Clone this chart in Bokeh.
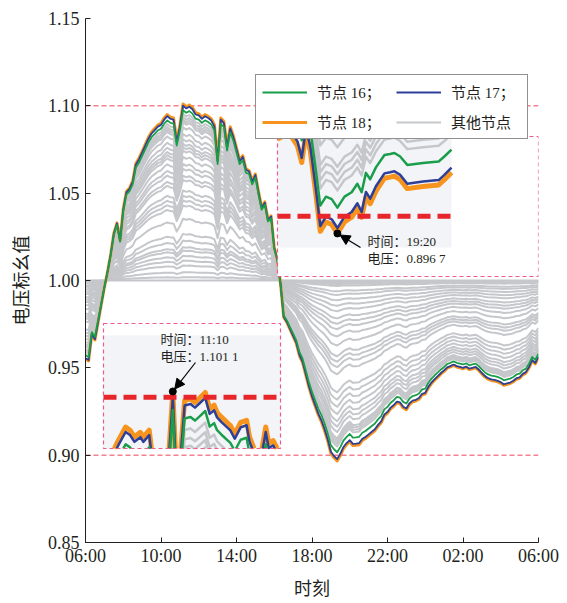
import numpy as np
from bokeh.plotting import figure
from bokeh.models import Range1d, FixedTicker, Legend, LegendItem, Arrow, NormalHead
from bokeh.core.properties import value
from bokeh.embed import file_html
from bokeh.resources import INLINE

# ---------------------------------------------------------------- data
# Node 18 (feeder end) voltage, p.u., 10-min samples from 06:00 to 06:00 next day
node18_pu = [
    0.955, 0.954, 0.969, 0.966, 0.976, 0.986, 0.996, 1.005, 1.015, 1.027,
    1.033, 1.023, 1.041, 1.051, 1.053, 1.057, 1.067, 1.070, 1.074, 1.078,
    1.082, 1.085, 1.087, 1.089, 1.090, 1.093, 1.095, 1.0935, 1.093, 1.080,
    1.089, 1.1011, 1.0995, 1.1005, 1.0990, 1.0960, 1.0955, 1.0935, 1.0950, 1.0940,
    1.0925, 1.0890, 1.0690, 1.0930, 1.0910, 1.0770, 1.0880, 1.0830, 1.0760, 1.0690,
    1.0715, 1.0640, 1.0630, 1.0570, 1.0610, 1.0510, 1.0420, 1.0450, 1.0350, 1.0370,
    1.0190, 1.0120, 0.9980, 0.9790, 0.9760, 0.9720, 0.9680, 0.9640, 0.9570, 0.9530,
    0.9460, 0.9390, 0.9330, 0.9280, 0.9230, 0.9190, 0.9140, 0.9080, 0.9010, 0.8985,
    0.8967, 0.8998, 0.9037, 0.9060, 0.9077, 0.9055, 0.9057, 0.9060, 0.9084, 0.9095,
    0.9110, 0.9125, 0.9140, 0.9165, 0.9185, 0.9225, 0.9240, 0.9265, 0.9280, 0.9300,
    0.9295, 0.9270, 0.9260, 0.9290, 0.9305, 0.9310, 0.9320, 0.9345, 0.9350, 0.9385,
    0.9410, 0.9430, 0.9447, 0.9465, 0.9480, 0.9498, 0.9505, 0.9514, 0.9505, 0.9500,
    0.9495, 0.9502, 0.9490, 0.9495, 0.9500, 0.9485, 0.9465, 0.9447, 0.9435, 0.9428,
    0.9425, 0.9420, 0.9412, 0.9400, 0.9405, 0.9410, 0.9420, 0.9435, 0.9440, 0.9460,
    0.9470, 0.9500, 0.9540, 0.9523, 0.9560,
]

# Voltage-deviation sensitivity of each node relative to node 18
# (day: reverse power flow from PV, night: load)
node16_sens = (0.965, 0.952)
node17_sens = (0.990, 0.990)
other_sens_day = [0.0, 0.019, 0.047, 0.085, 0.113, 0.14, 0.17, 0.189, 0.226, 0.264,
                  0.35, 0.425, 0.453, 0.48, 0.51, 0.57, 0.594, 0.632, 0.66, 0.70,
                  0.736, 0.755, 0.774, 0.80, 0.83, 0.868, 0.896, 0.91, 0.925, 0.943]
other_sens_night = [0.0, 0.005, 0.01, 0.02, 0.03, 0.06, 0.08, 0.11, 0.14, 0.17,
                    0.21, 0.24, 0.27, 0.31, 0.36, 0.42, 0.45, 0.48, 0.52, 0.62,
                    0.66, 0.70, 0.74, 0.78, 0.81, 0.84, 0.876, 0.89, 0.905, 0.92]

# Detail around the midday over-voltage (node 18)
noon_times = ["10:23", "10:27", "10:30", "10:33", "10:38", "10:41", "10:44", "10:48",
              "10:50", "10:54", "10:56", "11:01", "11:07", "11:10", "11:12", "11:15",
              "11:18", "11:22", "11:25", "11:28", "11:32", "11:35", "11:38", "11:40",
              "11:43", "11:49", "11:52", "11:56", "12:00", "12:02", "12:06", "12:10",
              "12:13", "12:15", "12:18", "12:23"]
noon_node18 = [1.0880, 1.0885, 1.0900, 1.0917, 1.0943, 1.0937, 1.0924, 1.0933,
               1.0924, 1.0937, 1.0890, 1.0860, 1.0880, 1.1011, 1.0880, 1.0885,
               1.0994, 1.0997, 1.0990, 1.0998, 1.1009, 1.0978, 1.0985, 1.0971,
               1.0962, 1.0946, 1.0930, 1.0952, 1.0956, 1.0924, 1.0895, 1.0895,
               1.0943, 1.0912, 1.0917, 1.0890]

# Detail around the evening under-voltage (node 18)
evening_times = ["18:38", "18:46", "18:52", "18:55", "18:58", "19:01", "19:05", "19:08",
                 "19:12", "19:16", "19:20", "19:25", "19:30", "19:34", "19:37", "19:40",
                 "19:43", "19:47", "19:53", "19:57", "20:00", "20:04", "20:09", "20:20",
                 "20:31", "20:35", "20:40"]
evening_node18 = [0.9148, 0.9160, 0.9135, 0.9103, 0.9160, 0.9125, 0.9040, 0.8971,
                  0.8989, 0.8984, 0.8967, 0.8989, 0.8998, 0.9015, 0.8998, 0.9037,
                  0.9024, 0.9048, 0.9073, 0.9075, 0.9077, 0.9070, 0.9053, 0.9057,
                  0.9060, 0.9070, 0.9084]

x_tick_hours = [0, 4, 8, 12, 16, 20, 24]
x_tick_labels = ["06:00", "10:00", "14:00", "18:00", "22:00", "02:00", "06:00"]
y_tick_values = [0.85, 0.90, 0.95, 1.00, 1.05, 1.10, 1.15]
y_tick_labels = ["0.85", "0.90", "0.95", "1.00", "1.05", "1.10", "1.15"]
v_upper, v_lower = 1.10, 0.90

# ---------------------------------------------------------------- style
GREEN, BLUE, ORANGE, GREY = "#1b9e4b", "#2e3f98", "#f7941d", "#c5c7cb"
RED, LIMIT, PINK, PANEL = "#e7262b", "#ef4056", "#ef5b8c", "#f3f4f7"
INK = "#231f20"
FONT_MIX = "Liberation Serif, Noto Sans CJK SC"
FONT_CJK = "Noto Sans CJK SC"

W, H = 567, 603
FX0, FX1, FY0, FY1 = 85, 538, 18, 542      # plot frame in page pixels


def hm(s):
    """clock string -> hours after 06:00"""
    h, m = map(int, s.split(":"))
    return ((h - 6) % 24) + m / 60.0


def follow(v18, sens_day, sens_night):
    d = np.asarray(v18, dtype=float) - 1.0
    return 1.0 + np.where(d >= 0, sens_day, sens_night) * d


def clip_segment(xa, ya, xb, yb, x0, x1, y0, y1):
    dx, dy = xb - xa, yb - ya
    ta, tb = 0.0, 1.0
    for p_, q_ in ((-dx, xa - x0), (dx, x1 - xa), (-dy, ya - y0), (dy, y1 - ya)):
        if p_ == 0:
            if q_ < 0:
                return None
        else:
            r = q_ / p_
            if p_ < 0:
                if r > tb:
                    return None
                ta = max(ta, r)
            else:
                if r < ta:
                    return None
                tb = min(tb, r)
    return xa + ta * dx, ya + ta * dy, xa + tb * dx, ya + tb * dy


def clip_polyline(xs, ys, x0, x1, y0, y1):
    pieces, cur, last = [], None, None
    for i in range(len(xs) - 1):
        seg = clip_segment(xs[i], ys[i], xs[i + 1], ys[i + 1], x0, x1, y0, y1)
        if seg is None:
            last = None
            continue
        ax, ay, bx, by = seg
        if last is not None and abs(last[0] - ax) < 1e-12 and abs(last[1] - ay) < 1e-12:
            cur[0].append(bx)
            cur[1].append(by)
        else:
            cur = ([ax, bx], [ay, by])
            pieces.append(cur)
        last = (bx, by)
    return pieces


t_main = np.arange(len(node18_pu)) / 6.0
v18_main = np.array(node18_pu)

p = figure(width=W, height=H, x_range=Range1d(0, 24), y_range=Range1d(0.85, 1.15),
           output_backend="svg", toolbar_location=None,
           min_border_left=FX0, min_border_right=W - FX1,
           min_border_top=FY0, min_border_bottom=H - FY1)
p.outline_line_color = None
p.grid.visible = False

# axes
p.xaxis.ticker = FixedTicker(ticks=x_tick_hours)
p.xaxis.major_label_overrides = {h: lab for h, lab in zip(x_tick_hours, x_tick_labels)}
p.yaxis.ticker = FixedTicker(ticks=y_tick_values)
p.yaxis.major_label_overrides = {v: lab for v, lab in zip(y_tick_values, y_tick_labels)}
p.xaxis.axis_label = "时刻"
p.yaxis.axis_label = "电压标幺值"
for ax in (p.xaxis[0], p.yaxis[0]):
    ax.major_tick_in = 5
    ax.major_tick_out = 0
    ax.minor_tick_line_color = None
    ax.axis_line_color = INK
    ax.major_tick_line_color = INK
    ax.major_label_text_font = "Liberation Serif"
    ax.major_label_text_font_size = "18px"
    ax.major_label_text_color = INK
    ax.axis_label_text_font = FONT_CJK
    ax.axis_label_text_font_size = "18px"
    ax.axis_label_text_font_style = "normal"
    ax.axis_label_text_color = INK
p.xaxis.major_label_standoff = 3
p.xaxis.axis_label_standoff = 5
p.yaxis.major_label_standoff = 6
p.yaxis.axis_label_standoff = 12

# voltage limits
for lim in (v_upper, v_lower):
    p.line([x_tick_hours[0], x_tick_hours[-1]], [lim, lim], line_color=LIMIT,
           line_width=1, line_dash="5 3")

# main curves
grey_xs = [t_main for _ in other_sens_day]
grey_ys = [follow(v18_main, kd, kn) for kd, kn in zip(other_sens_day, other_sens_night)]
r_grey = p.multi_line(grey_xs, grey_ys, line_color=GREY, line_width=2, line_join="round")
r18 = p.line(t_main, v18_main, line_color=ORANGE, line_width=3, line_join="round")
r17 = p.line(t_main, follow(v18_main, *node17_sens), line_color=BLUE, line_width=1.8,
             line_join="round")
r16 = p.line(t_main, follow(v18_main, *node16_sens), line_color=GREEN, line_width=1.8,
             line_join="round")

# ---------------------------------------------------------------- detail panels
insets = [
    dict(name="noon", times=noon_times, v18=noon_node18, t_win=("10:23", "12:23"),
         v_win=(1.0902, 1.1118), plot_px=(103, 280, 335, 448), box_px=(103, 280, 323, 448),
         limit=v_upper, pick=np.argmax, text_px=(160, 339), arrow_px=(195, 362)),
    dict(name="evening", times=evening_times, v18=evening_node18, t_win=("18:38", "20:40"),
         v_win=(0.8940, 0.9153), plot_px=(277, 451, 136, 247), box_px=(277, 538, 136, 276),
         limit=v_lower, pick=np.argmin, text_px=(367, 241), arrow_px=(360, 247)),
]

extra_x, extra_y = {}, {}
for ins in insets:
    t0, t1 = hm(ins["t_win"][0]), hm(ins["t_win"][1])
    v0, v1 = ins["v_win"]
    sx0, sx1, sy0, sy1 = ins["plot_px"]
    kx = (t1 - t0) / (sx1 - sx0)
    ky = (v1 - v0) / (sy1 - sy0)
    extra_x[ins["name"]] = Range1d(t0 - (sx0 - FX0) * kx, t1 + (FX1 - sx1) * kx)
    extra_y[ins["name"]] = Range1d(v0 - (FY1 - sy1) * ky, v1 + (sy0 - FY0) * ky)
    ins.update(t0=t0, t1=t1, v0=v0, v1=v1, kx=kx, ky=ky)
p.extra_x_ranges = extra_x
p.extra_y_ranges = extra_y

for ins in insets:
    name = ins["name"]
    t0, t1, v0, v1, kx, ky = ins["t0"], ins["t1"], ins["v0"], ins["v1"], ins["kx"], ins["ky"]
    sx0, sx1, sy0, sy1 = ins["plot_px"]
    kw = dict(x_range_name=name, y_range_name=name)

    def to_t(x):
        return t0 + (x - sx0) * kx

    def to_v(y):
        return v1 - (y - sy0) * ky

    bx0, bx1, by0, by1 = ins["box_px"]
    p.quad(left=[to_t(bx0)], right=[to_t(bx1)], top=[to_v(by0)], bottom=[to_v(by1)],
           fill_color="white", line_color=None, **kw)
    p.quad(left=[t0], right=[t1], top=[v1], bottom=[v0], fill_color=PANEL,
           line_color=None, **kw)

    tt = np.array([hm(s) for s in ins["times"]])
    v18 = np.array(ins["v18"])

    gx, gy = [], []
    for kd, kn in zip(other_sens_day, other_sens_night):
        for px_, py_ in clip_polyline(tt, follow(v18, kd, kn), t0, t1, v0, v1):
            gx.append(px_)
            gy.append(py_)
    p.multi_line(gx, gy, line_color=GREY, line_width=2.5, line_join="round", **kw)

    for vals, col, lw in ((v18, ORANGE, 5), (follow(v18, *node17_sens), BLUE, 2.5),
                          (follow(v18, *node16_sens), GREEN, 2.5)):
        pcs = clip_polyline(tt, vals, t0, t1, v0, v1)
        p.multi_line([c[0] for c in pcs], [c[1] for c in pcs], line_color=col,
                     line_width=lw, line_join="round", **kw)

    p.line([t0, t1], [ins["limit"], ins["limit"]], line_color=RED, line_width=5,
           line_dash="13 7", **kw)

    k = int(ins["pick"](v18))
    t_mark, v_mark = tt[k], v18[k]
    p.scatter([t_mark], [v_mark], size=7, color="black", **kw)

    # arrow from the label to the marked sample
    mx = sx0 + (t_mark - t0) / kx
    my = sy0 + (v1 - v_mark) / ky
    ax_, ay_ = ins["arrow_px"]
    dx, dy = ax_ - mx, ay_ - my
    dn = np.hypot(dx, dy)
    ex, ey = mx + dx / dn * 3.0, my + dy / dn * 3.0
    p.add_layout(Arrow(x_start=to_t(ax_), y_start=to_v(ay_), x_end=to_t(ex), y_end=to_v(ey),
                       line_color="black", line_width=1.2,
                       end=NormalHead(size=10, fill_color="black", line_color="black"),
                       **kw))

    v_txt = f"{v_mark:.4f}"
    v_txt = v_txt[:5] + " " + v_txt[5:]
    tx, ty = ins["text_px"]
    p.text(x=[to_t(tx), to_t(tx)], y=[to_v(ty), to_v(ty + 16.5)],
           text=[f"时间：{ins['times'][k]}", f"电压：{v_txt}"],
           text_font=value(FONT_MIX), text_font_size=value("13px"), text_color=INK,
           text_align="left", text_baseline="middle", **kw)

    p.quad(left=[to_t(bx0)], right=[to_t(bx1)], top=[to_v(by0)], bottom=[to_v(by1)],
           fill_color=None, line_color=PINK, line_width=1.2, line_dash="4 3", **kw)

# ---------------------------------------------------------------- legend
# two columns, filled column by column
legend = Legend(items=[LegendItem(label="节点 16；", renderers=[r16]),
                       LegendItem(label="节点 18；", renderers=[r18]),
                       LegendItem(label="节点 17；", renderers=[r17]),
                       LegendItem(label="其他节点", renderers=[r_grey])],
                ncols=2, location=(170, 403))
legend.border_line_color = INK
legend.border_line_width = 1
legend.background_fill_color = "white"
legend.background_fill_alpha = 1.0
legend.label_text_font = FONT_MIX
legend.label_text_font_size = "15px"
legend.label_text_color = INK
legend.glyph_width = 45
legend.glyph_height = 20
legend.label_height = 20
legend.label_width = 70
legend.label_standoff = 10
legend.spacing = 9
legend.padding = 6
legend.margin = 0
p.add_layout(legend)

open("out.html", "w").write(file_html(p, INLINE))
